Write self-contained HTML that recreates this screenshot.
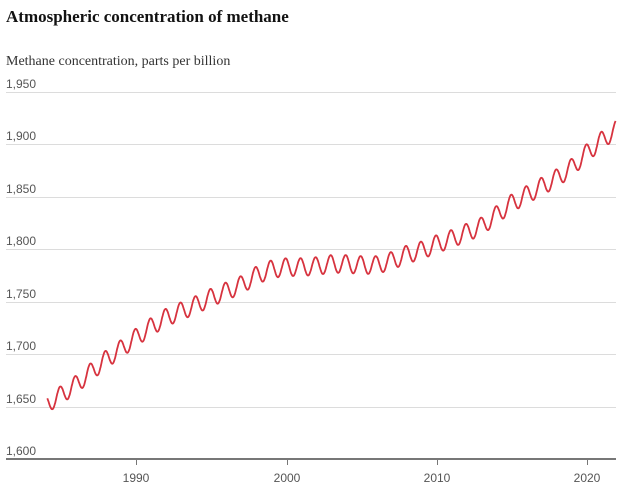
<!DOCTYPE html>
<html><head><meta charset="utf-8"><style>
body{margin:0;background:#fff;width:640px;height:497px;overflow:hidden}
</style></head><body>
<svg width="640" height="497" xmlns="http://www.w3.org/2000/svg" font-family="Liberation Sans, sans-serif">
<text x="6" y="22" font-family="Liberation Serif, serif" font-weight="bold" font-size="17" fill="#121212">Atmospheric concentration of methane</text>
<text x="6" y="65" font-family="Liberation Serif, serif" font-size="14" fill="#333">Methane concentration, parts per billion</text>
<g stroke="#dcdcdc" stroke-width="1">
<line x1="6" x2="616" y1="92.5" y2="92.5"/><line x1="6" x2="616" y1="144.5" y2="144.5"/>
<line x1="6" x2="616" y1="197.5" y2="197.5"/><line x1="6" x2="616" y1="249.5" y2="249.5"/>
<line x1="6" x2="616" y1="302.5" y2="302.5"/><line x1="6" x2="616" y1="354.5" y2="354.5"/>
<line x1="6" x2="616" y1="407.5" y2="407.5"/>
</g>
<g font-size="12" fill="#555">
<text x="6" y="88">1,950</text><text x="6" y="140">1,900</text><text x="6" y="193">1,850</text>
<text x="6" y="245">1,800</text><text x="6" y="298">1,750</text><text x="6" y="350">1,700</text>
<text x="6" y="403">1,650</text><text x="6" y="455">1,600</text>
</g>
<line x1="6" x2="616" y1="459" y2="459" stroke="#777" stroke-width="2"/>
<g stroke="#777" stroke-width="1">
<line x1="136.5" x2="136.5" y1="459" y2="465"/><line x1="287.5" x2="287.5" y1="459" y2="465"/>
<line x1="437.5" x2="437.5" y1="459" y2="465"/><line x1="587.5" x2="587.5" y1="459" y2="465"/>
</g>
<g font-size="12" fill="#555" text-anchor="middle">
<text x="136" y="482">1990</text><text x="287" y="482">2000</text><text x="437" y="482">2010</text><text x="587" y="482">2020</text>
</g>
<path id="p" fill="none" stroke="#d7333f" stroke-width="1.8" stroke-linejoin="round"/>
</svg>
<script>
var T={1984:1652,1985:1661,1986:1671,1987:1683,1988:1695,1989:1705,1990:1716,1991:1726,1992:1735,1993:1741,1994:1747,1995:1754,1996:1760,1997:1766,1998:1775,1999:1781,2000:1783,2001:1783,2002:1784,2003:1786,2004:1786,2005:1785,2006:1785,2007:1789,2008:1795,2009:1799,2010:1805,2011:1810,2012:1816,2013:1822,2014:1833,2015:1844,2016:1852,2017:1860,2018:1868,2019:1878,2020:1892,2021:1904,2022:1915};
var ks=Object.keys(T).map(Number).sort(function(a,b){return a-b});
function tr(t){for(var i=0;i<ks.length-1;i++){if(t<=ks[i+1]){var a=ks[i],b=ks[i+1];return T[a]+(T[b]-T[a])*(t-a)/(b-a);}}return T[ks[ks.length-1]];}
var d="";
for(var t=1984.1;t<=2021.93;t+=1/48){
var ph=t-Math.floor(t);
var s=8.5*Math.cos(2*Math.PI*(ph+0.05));
var v=tr(t)+s;
var x=136+(t-1990)*15.03, y=459-(v-1600)*52.43/50;
d+=(d?"L":"M")+x.toFixed(1)+","+y.toFixed(1);
}
document.getElementById("p").setAttribute("d",d);
</script>
</body></html>
